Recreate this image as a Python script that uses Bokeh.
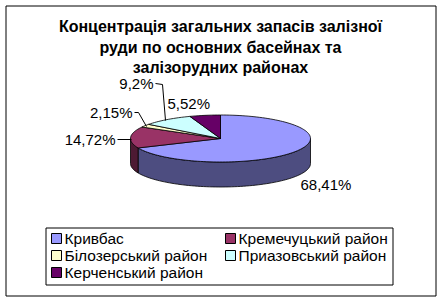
import numpy as np
from bokeh.plotting import figure
from bokeh.models import Range1d
from bokeh.core.properties import value
from bokeh.embed import file_html
from bokeh.resources import INLINE

# ---- data ----
title_lines = ["Концентрація загальних запасів залізної",
               "руди по основних басейнах та",
               "залізорудних районах"]
categories = ["Кривбас", "Кремечуцький район", "Білозерський район",
              "Приазовський район", "Керченський район"]
shares = [68.41, 14.72, 2.15, 9.2, 5.52]
share_labels = ["68,41%", "14,72%", "2,15%", "9,2%", "5,52%"]

# ---- style ----
top_colors = ["#9999FF", "#993366", "#FFFFCC", "#CCFFFF", "#660066"]
side_colors = ["#4D4D80", "#4D1A33", "#80806A", "#668080", "#330033"]
FONT = "Liberation Sans"

W, H = 441, 301
p = figure(width=W, height=H, output_backend="svg", toolbar_location=None,
           x_range=Range1d(0, W), y_range=Range1d(H, 0), min_border=0)
p.axis.visible = False
p.grid.visible = False
p.outline_line_color = None
p.background_fill_color = "white"
p.border_fill_color = "white"

# outer border
p.quad(left=[5.5], right=[435.5], top=[5.5], bottom=[295.5],
       fill_color=None, line_color="black", line_width=1)

# title
p.text(x=[220] * 3, y=[26, 47, 67], text=title_lines, text_align="center",
       text_baseline="middle", text_font=value(FONT), text_font_style="bold",
       text_font_size="16px", text_color="black")

# ---- 3D pie ----
cx, cy, rx, ry, depth = 220.0, 138.0, 90.0, 23.5, 25.0
total = sum(shares)
bounds = np.concatenate([[0], np.cumsum(shares)]) / total * 360.0

def ell(t):
    r = np.radians(t)
    return cx + rx * np.sin(r), cy - ry * np.cos(r)

side_xs, side_ys, side_c = [], [], []
top_xs, top_ys, top_c = [], [], []
for i in range(len(shares)):
    a0, a1 = bounds[i], bounds[i + 1]
    t = np.linspace(a0, a1, max(int((a1 - a0) / 2) + 2, 3))
    ex, ey = ell(t)
    top_xs.append(list(np.concatenate([[cx], ex])))
    top_ys.append(list(np.concatenate([[cy], ey])))
    top_c.append(top_colors[i])
    s, e = max(a0, 90.0), min(a1, 270.0)
    if s < e:
        ts = np.linspace(s, e, max(int((e - s) / 2) + 2, 3))
        sx, sy = ell(ts)
        side_xs.append(list(np.concatenate([sx, sx[::-1]])))
        side_ys.append(list(np.concatenate([sy, (sy + depth)[::-1]])))
        side_c.append(side_colors[i])

p.patches(xs=side_xs, ys=side_ys, fill_color=side_c, line_color="black",
          line_width=0.8)
p.patches(xs=top_xs, ys=top_ys, fill_color=top_c, line_color="black",
          line_width=0.8)

# data labels
lab_x = [300, 115, 132, 153, 167]
lab_y = [184, 139, 112, 83, 103]
lab_align = ["left", "right", "right", "right", "left"]
for i in range(len(shares)):
    p.text(x=[lab_x[i]], y=[lab_y[i]], text=[share_labels[i]],
           text_align=lab_align[i], text_baseline="middle",
           text_font=value(FONT), text_font_size="15px", text_color="black")

# leader lines
p.multi_line(xs=[[117, 131], [134, 138, 146], [155, 162, 165]],
             ys=[[139, 139], [112, 112, 126], [83, 84, 120]],
             line_color="black", line_width=1)

# ---- legend ----
p.quad(left=[45.5], right=[392.5], top=[227.5], bottom=[284.5],
       fill_color="white", line_color="black", line_width=1)
leg_sx = [51, 225, 51, 225, 51]
leg_y = [238, 238, 255, 255, 272]
p.rect(x=[x + 5 for x in leg_sx], y=leg_y, width=10, height=10,
       fill_color=top_colors, line_color="black", line_width=1)
p.text(x=[x + 13 for x in leg_sx], y=leg_y, text=categories,
       text_align="left", text_baseline="middle", text_font=value(FONT),
       text_font_size="15.5px", text_color="black")

open("out.html", "w").write(file_html(p, INLINE))
